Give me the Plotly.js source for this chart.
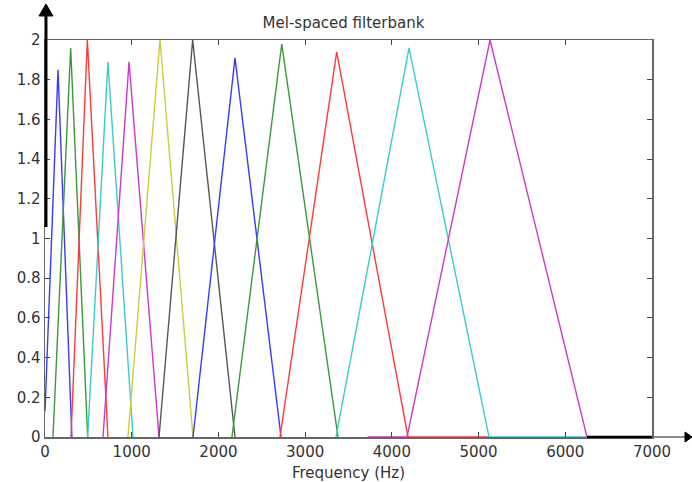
<!DOCTYPE html>
<html>
<head>
<meta charset="utf-8">
<script src="https://cdn.plot.ly/plotly-3.0.1.min.js"></script>
<style>html,body{margin:0;padding:0;background:#fff;}#chart{width:692px;height:482px;}</style>
</head>
<body>
<div id="chart"></div>
<script>
// Filter responses (frequency in Hz, gain)
const f1Hz  = [0, 150, 310];             const f1Gain  = [0.13, 1.85, 0];
const f2Hz  = [92, 296, 492];            const f2Gain  = [0, 1.96, 0];
const f3Hz  = [300, 488, 726];           const f3Gain  = [0, 2.0, 0];
const f4Hz  = [492, 726, 1015];          const f4Gain  = [0, 1.89, 0];
const f5Hz  = [669, 969, 1315];          const f5Gain  = [0, 1.89, 0];
const f6Hz  = [957, 1326, 1707];         const f6Gain  = [0, 2.0, 0];
const f7Hz  = [1315, 1703, 2191];        const f7Gain  = [0, 2.0, 0];
const f8Hz  = [1707, 2191, 2722];        const f8Gain  = [0, 1.91, 0];
const f9Hz  = [2156, 2730, 3379];        const f9Gain  = [0, 1.98, 0];
const f10Hz = [2710, 3364, 4186, 5120];  const f10Gain = [0, 1.94, 0, 0];
const f11Hz = [3356, 4198, 5120, 6250];  const f11Gain = [0, 1.96, 0, 0];
const f12Hz = [3720, 4175, 5132, 6250];  const f12Gain = [0, 0, 2.0, 0];

const xTicks = [0, 1000, 2000, 3000, 4000, 5000, 6000, 7000];
const yTicks = [0, 0.2, 0.4, 0.6, 0.8, 1, 1.2, 1.4, 1.6, 1.8, 2];

const filtersHz   = [f1Hz, f2Hz, f3Hz, f4Hz, f5Hz, f6Hz, f7Hz, f8Hz, f9Hz, f10Hz, f11Hz, f12Hz];
const filtersGain = [f1Gain, f2Gain, f3Gain, f4Gain, f5Gain, f6Gain, f7Gain, f8Gain, f9Gain, f10Gain, f11Gain, f12Gain];

// MATLAB default line colour cycle (as rendered, slightly lightened)
const lineColors = ['#3a3aff', '#3a9a3a', '#ff3a3a', '#3acccc', '#cc3acc', '#cccc3a', '#555555'];

const traces = filtersHz.map((hz, i) => ({
  type: 'scatter', mode: 'lines',
  x: hz, y: filtersGain[i],
  line: {color: lineColors[i % lineColors.length], width: 1.4},
  hoverinfo: 'x+y', showlegend: false
}));

const font = {family: 'DejaVu Sans, Verdana, sans-serif', size: 15, color: '#333333'};

const layout = {
  width: 692, height: 482,
  margin: {l: 45, r: 40, t: 40, b: 45, pad: 0},
  paper_bgcolor: '#ffffff', plot_bgcolor: '#ffffff',
  font: font,
  showlegend: false,
  title: {text: 'Mel-spaced filterbank', font: font, x: 0.4964, xref: 'container', xanchor: 'center', y: 0.952, yref: 'container', yanchor: 'middle'},
  xaxis: {
    range: [0, 7000], tickvals: xTicks, ticktext: xTicks.map(String),
    showgrid: false, zeroline: false,
    showline: true, linecolor: '#666666', linewidth: 1.5, mirror: 'ticks',
    ticks: 'inside', ticklen: 5, tickcolor: '#444444', tickwidth: 1,
    tickfont: font,
    title: {text: 'Frequency (Hz)', font: font, standoff: 8}
  },
  yaxis: {
    range: [0, 2], tickvals: yTicks, ticktext: yTicks.map(String),
    showgrid: false, zeroline: false,
    showline: true, linecolor: '#666666', linewidth: 1.5, mirror: 'ticks',
    ticks: 'inside', ticklen: 5, tickcolor: '#444444', tickwidth: 1,
    tickfont: font
  },
  shapes: [
    // thick black part of the left axis
    {type: 'line', xref: 'paper', yref: 'paper', x0: 0.0016, x1: 0.0016, y0: 0.529, y1: 1.062, line: {color: '#000000', width: 3}},
    // up arrow head
    {type: 'path', xref: 'paper', yref: 'paper', path: 'M -0.0099 1.0605 L 0.0016 1.0907 L 0.0131 1.0605 Z', fillcolor: '#000000', line: {color: '#000000', width: 1}},
    // extension of the x axis to the right arrow
    {type: 'line', xref: 'paper', yref: 'paper', x0: 1, x1: 1.058, y0: 0, y1: 0, line: {color: '#666666', width: 1.5}},
    // thick black end segment of the x axis
    {type: 'line', xref: 'paper', yref: 'paper', x0: 0.8929, x1: 1, y0: 0, y1: 0, line: {color: '#000000', width: 2.5}},
    // right arrow head
    {type: 'path', xref: 'paper', yref: 'paper', path: 'M 1.0544 0.0126 L 1.0659 0 L 1.0544 -0.0126 Z', fillcolor: '#000000', line: {color: '#000000', width: 1}}
  ]
};

Plotly.newPlot('chart', traces, layout, {staticPlot: true, displayModeBar: false});
</script>
</body>
</html>
